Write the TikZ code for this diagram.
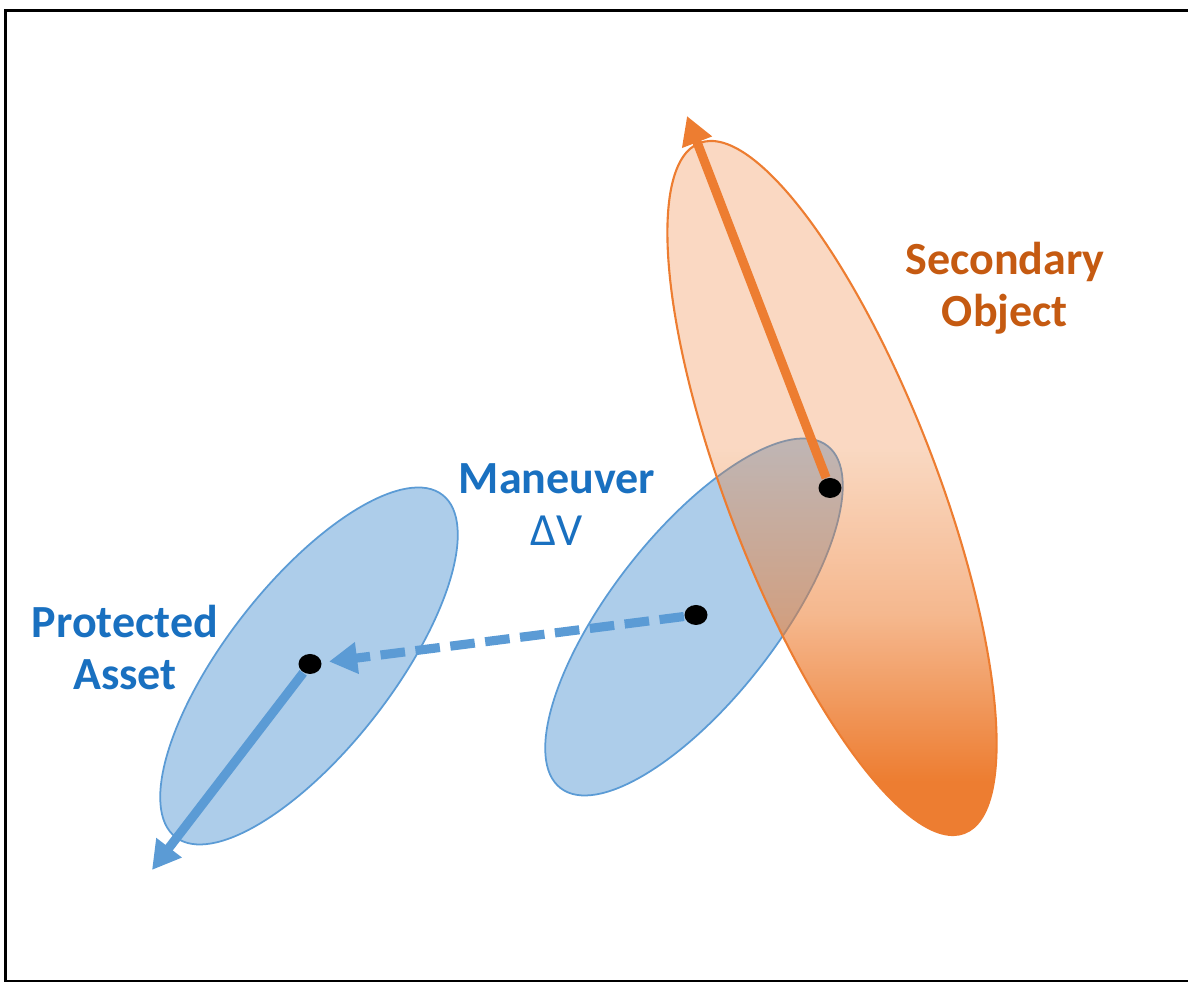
\documentclass[tikz,border=0pt]{standalone}
\usepackage{fontspec}
\setmainfont{Carlito}
\usetikzlibrary{arrows.meta,shapes.geometric,fadings}

\definecolor{accblue}{HTML}{5B9BD5}
\definecolor{accorange}{HTML}{ED7D31}
\definecolor{txtblue}{RGB}{25,112,192}
\definecolor{txtorange}{HTML}{C55A11}

% opacity of the secondary object's cloud: pale on top, solid at the bottom
\pgfdeclareverticalshading{orangeramp}{300bp}{%
  color(0bp)=(pgftransparent!0); color(67bp)=(pgftransparent!0);
  color(114bp)=(pgftransparent!45); color(161bp)=(pgftransparent!70);
  color(300bp)=(pgftransparent!70)}
\pgfdeclarefading{orangefade}{\pgfuseshading{orangeramp}}

\begin{document}
\begin{tikzpicture}[
    dot/.style={ellipse,fill=black,inner sep=0pt,minimum width=0.23cm,minimum height=0.2cm},
    cloud/.style={fill=accblue!50,draw=accblue,line width=0.5pt},
    vec/.style={line width=2.6pt,-{Triangle[length=8pt,width=8.6pt]}},
    lbl/.style={font=\fontsize{13.1}{14.8}\selectfont\bfseries,align=center,inner sep=0pt}]
  \useasboundingbox (0,0) rectangle (11.88,9.82);
  \draw[line width=0.85pt] (0.055,0.005) rectangle (12.2,9.715);
  % covariance ellipses
  \draw[cloud,rotate around={52:(3.09,3.16)}] (3.09,3.16) ellipse (2.17 and 0.83);
  \draw[cloud,rotate around={52:(6.94,3.65)}] (6.94,3.65) ellipse (2.17 and 0.83);
  \fill[accorange,path fading=orangefade,fit fading=false,
        rotate around={-69:(8.32,4.94)},fading transform={shift={(8.32,4.94)}}]
    (8.32,4.94) ellipse (3.695 and 1.047);
  \draw[accorange,line width=0.6pt,rotate around={-69:(8.32,4.94)}] (8.32,4.94) ellipse (3.695 and 1.047);
  % centres and velocity vectors
  \node[dot] (pa) at (3.10,3.18) {};
  \node[dot] (mv) at (6.96,3.67) {};
  \node[dot] (so) at (8.30,4.94) {};
  \coordinate (paTip) at (1.52,1.12);
  \coordinate (soTip) at (6.87,8.66);
  \draw[vec,accblue] (pa) -- (paTip);
  \draw[vec,accorange] (so) -- (soTip);
  \draw[vec,accblue,dash pattern=on 7pt off 3pt,shorten >=2pt] (mv) -- (pa);
  % labels
  \node[lbl,text=txtblue] (patext) at (1.25,3.34) {Protected\\Asset};
  \node[lbl,text=txtblue] (mvtext) at (5.57,4.77) {Maneuver\\{\mdseries ΔV}};
  \node[lbl,text=txtorange] (sotext) at (10.05,6.94) {Secondary\\Object};
\end{tikzpicture}
\end{document}
